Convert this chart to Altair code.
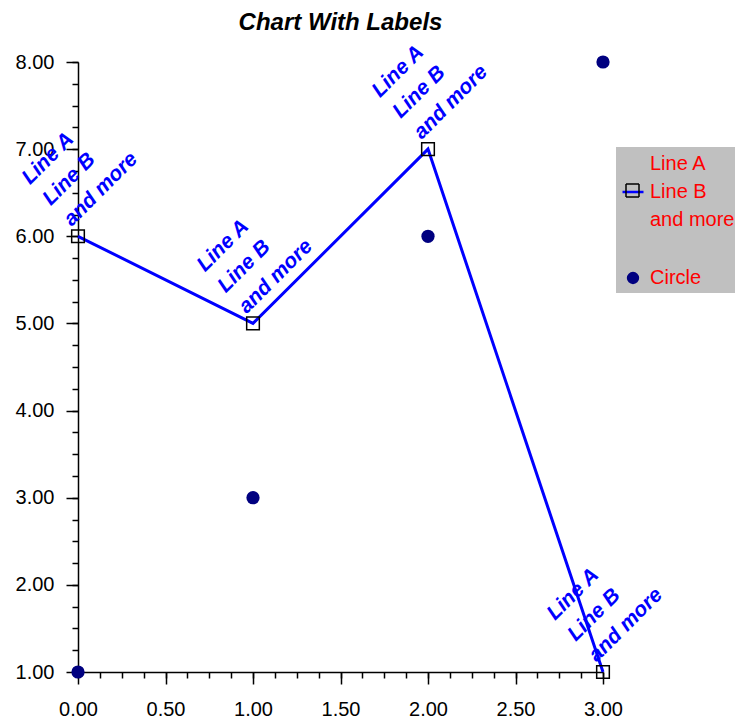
import altair as alt
import pandas as pd

# ---- data ----
x_values = [0, 1, 2, 3]
line_values = [6, 5, 7, 1]
circle_values = [1, 3, 6, 8]
line_name = "Line A|Line B|and more"
circle_name = "Circle"
point_label = "Line A|Line B|and more"
title_text = "Chart With Labels"
x_major = [0.0, 0.5, 1.0, 1.5, 2.0, 2.5, 3.0]
y_major = [1, 2, 3, 4, 5, 6, 7, 8]
x_minor = [i / 8 for i in range(0, 25)]
y_minor = [1 + i / 4 for i in range(0, 29)]

line_df = pd.DataFrame({"x": x_values, "y": line_values,
                        "label": [point_label] * len(x_values), "series": line_name})
circle_df = pd.DataFrame({"x": x_values, "y": circle_values,
                          "label": [""] * len(x_values), "series": circle_name})
all_df = pd.concat([line_df, circle_df], ignore_index=True)

FONT = "Liberation Sans"
xs = alt.Scale(domain=[0, 3], nice=False, zero=False)
ys = alt.Scale(domain=[1, 8], nice=False, zero=False)

major_x = alt.Axis(orient="bottom", values=x_major, format=".2f", title=None, grid=False,
                   tickSize=12, tickWidth=1.5, tickColor="black", domainColor="black",
                   domainWidth=1.5, labelFont=FONT, labelFontSize=20, labelColor="black",
                   labelPadding=15, labelFlush=False, labelOverlap=False)
major_y = alt.Axis(orient="left", values=y_major, format=".2f", title=None, grid=False,
                   tickSize=12, tickWidth=1.5, tickColor="black", domainColor="black",
                   domainWidth=1.5, labelFont=FONT, labelFontSize=20, labelColor="black",
                   labelPadding=12, labelFlush=False, labelOverlap=False)
minor_x = alt.Axis(orient="bottom", values=x_minor, title=None, grid=False, labels=False,
                   domain=False, tickSize=6, tickWidth=1.5, tickColor="black")
minor_y = alt.Axis(orient="left", values=y_minor, title=None, grid=False, labels=False,
                   domain=False, tickSize=6, tickWidth=1.5, tickColor="black")

base = alt.Chart(all_df)
is_line = alt.datum.series == line_name
is_circle = alt.datum.series == circle_name

line = base.transform_filter(is_line).mark_line(color="#0000FF", strokeWidth=3).encode(
    x=alt.X("x:Q", scale=xs, axis=major_x),
    y=alt.Y("y:Q", scale=ys, axis=major_y),
)

squares = base.transform_filter(is_line).mark_point(
    shape="square", size=160, filled=False, color="black", strokeWidth=1.5, opacity=1
).encode(
    x=alt.X("x:Q", scale=xs, axis=minor_x),
    y=alt.Y("y:Q", scale=ys, axis=minor_y),
)

circles = base.transform_filter(is_circle).mark_circle(color="#000080", size=175, opacity=1).encode(
    x=alt.X("x:Q", scale=xs, axis=None),
    y=alt.Y("y:Q", scale=ys, axis=None),
)

labels = base.transform_filter(is_line).transform_calculate(
    lines="split(datum.label, '|')"
).mark_text(
    align="left", baseline="bottom", angle=315, dx=2, dy=-66, font=FONT, fontSize=21,
    fontWeight="bold", fontStyle="italic", color="#0000FF", lineHeight=29.5
).encode(
    x=alt.X("x:Q", scale=xs, axis=None),
    y=alt.Y("y:Q", scale=ys, axis=None),
    text=alt.Text("lines:N"),
)

# legend symbols: the line symbol is drawn one text line lower so it sits beside "Line B"
path_line = "M-1,2.667H1"
path_circle = "M0.47,0A0.47,0.47 0 1,1 -0.47,0A0.47,0.47 0 1,1 0.47,0Z"
leg = alt.Legend(title=None, orient="none", legendX=538, legendY=85, fillColor="#C0C0C0",
                 padding=5, labelFont=FONT, labelFontSize=20, labelColor="red",
                 labelOffset=5, symbolSize=441, symbolStrokeWidth=2.5, rowPadding=36,
                 labelExpr="split(datum.label, '|')", symbolOpacity=1, zindex=0)
legend_layer = base.transform_filter("false").mark_point(filled=True).encode(
    x=alt.X("x:Q", scale=xs, axis=None),
    y=alt.Y("y:Q", scale=ys, axis=None),
    shape=alt.Shape("series:N", scale=alt.Scale(domain=[line_name, circle_name],
                                                range=[path_line, path_circle]), legend=leg),
    stroke=alt.Stroke("series:N", scale=alt.Scale(domain=[line_name, circle_name],
                                                  range=["#0000FF", "#000080"]), legend=leg),
    fill=alt.Fill("series:N", scale=alt.Scale(domain=[line_name, circle_name],
                                              range=["transparent", "#000080"]), legend=leg),
)

# black square marker drawn over the legend's line symbol
leg_sq = alt.Legend(title=None, orient="none", legendX=547, legendY=121, padding=0,
                    symbolType="square", symbolSize=169, symbolStrokeColor="black",
                    symbolFillColor="transparent", symbolStrokeWidth=1.5, symbolOpacity=1,
                    labelExpr="''", labelFontSize=1, zindex=2)
legend_square = base.transform_filter("false").transform_calculate(
    marker="datum.series"
).mark_point(filled=False, color="black").encode(
    x=alt.X("x:Q", scale=xs, axis=None),
    y=alt.Y("y:Q", scale=ys, axis=None),
    strokeDash=alt.StrokeDash("marker:N", scale=alt.Scale(domain=[line_name], range=[[1, 0]]),
                              legend=leg_sq),
)

chart = alt.layer(line, squares, circles, labels, legend_layer, legend_square).resolve_axis(
    x="independent", y="independent"
).properties(
    width=525, height=610,
    title=alt.Title(title_text, font=FONT, fontSize=24, fontWeight="bold", fontStyle="italic",
                    color="black", anchor="middle", offset=-16),
    autosize=alt.AutoSizeParams(type="none"),
    padding={"left": 70, "top": 54, "right": 132, "bottom": 46},
).configure(
    style={"guide-label": {"lineHeight": 28}}
).configure_view(stroke=None)

chart.save("out.html", embed_options={"renderer": "svg", "actions": False})
